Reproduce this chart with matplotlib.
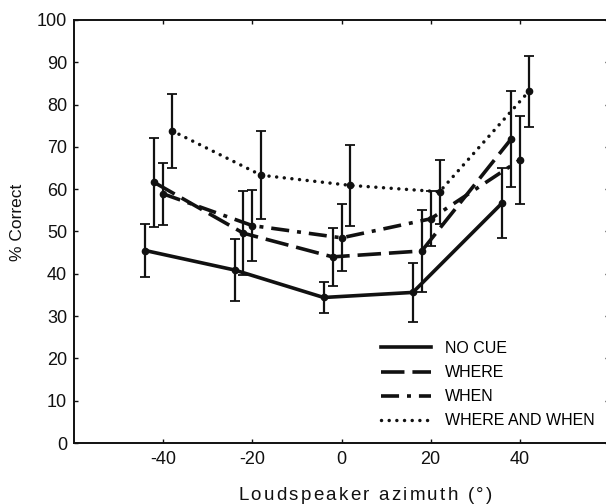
import matplotlib
matplotlib.use('Agg')
import matplotlib.pyplot as plt
from matplotlib import font_manager, ft2font

# ---------------- data ----------------
azimuth_ticks = [-40, -20, 0, 20, 40]
y_ticks = [0, 10, 20, 30, 40, 50, 60, 70, 80, 90, 100]
series_names = ['NO CUE', 'WHERE', 'WHEN', 'WHERE AND WHEN']

x_no_cue = [-44, -24, -4, 16, 36]
y_no_cue = [45.5, 40.9, 34.4, 35.6, 56.7]
err_no_cue = [6.2, 7.4, 3.7, 6.9, 8.3]

x_where = [-42, -22, -2, 18, 38]
y_where = [61.6, 49.6, 44.0, 45.4, 71.8]
err_where = [10.6, 9.9, 6.9, 9.8, 11.3]

x_when = [-40, -20, 0, 20, 40]
y_when = [58.9, 51.4, 48.5, 53.0, 66.9]
err_when = [7.3, 8.4, 7.9, 6.5, 10.5]

x_where_when = [-38, -18, 2, 22, 42]
y_where_when = [73.8, 63.3, 60.9, 59.4, 83.1]
err_where_when = [8.8, 10.4, 9.5, 7.6, 8.5]

x_label_text = 'Loudspeaker azimuth (\u00b0)'
y_label_text = '% Correct'

# ---------------- style ----------------
FAMILY = 'Liberation Sans'
plt.rcParams['font.family'] = [FAMILY, 'DejaVu Sans']
plt.rcParams['axes.unicode_minus'] = False

W_PX, H_PX, DPI = 606, 504, 100
INK = '#111111'
fig = plt.figure(figsize=(W_PX / DPI, H_PX / DPI), dpi=DPI)
ax = fig.add_axes([74 / W_PX, (H_PX - 443) / H_PX, (609 - 74) / W_PX, 423 / H_PX])

styles = [
    dict(linestyle='-', lw=2.6),
    dict(linestyle=(0, (6.5, 2.2)), lw=2.6),
    dict(linestyle=(0, (5.0, 2.2, 1.1, 2.2)), lw=2.6),
    dict(linestyle=(0, (0.01, 2.2)), lw=2.5, dash_capstyle='round'),
]
xs = [x_no_cue, x_where, x_when, x_where_when]
ys = [y_no_cue, y_where, y_when, y_where_when]
errs = [err_no_cue, err_where, err_when, err_where_when]

handles = []
for name, x, y, e, st in zip(series_names, xs, ys, errs, styles):
    ax.errorbar(x, y, yerr=e, fmt='none', ecolor=INK, elinewidth=1.6,
                capsize=3.4, capthick=1.3, zorder=2)
    ln, = ax.plot(x, y, color=INK, zorder=3, label=name, **st)
    ax.plot(x, y, linestyle='none', marker='o', markersize=4.5,
            color=INK, zorder=4)
    handles.append(ln)

ax.set_xlim(-60, 60)
ax.set_ylim(0, 100)
ax.set_xticks(azimuth_ticks)
ax.set_xticklabels([str(t) for t in azimuth_ticks])
ax.set_yticks(y_ticks)
ax.set_yticklabels([str(t) for t in y_ticks])
ax.tick_params(direction='in', length=3, width=1.0, top=True, right=True,
               labelsize=13, colors=INK)
ax.tick_params(axis='x', pad=6)
ax.tick_params(axis='y', pad=5)
for sp in ax.spines.values():
    sp.set_linewidth(1.4)
    sp.set_color(INK)

leg = ax.legend(handles=handles, labels=series_names,
                loc='upper left', bbox_to_anchor=(381 / W_PX, 1 - 341 / H_PX),
                bbox_transform=fig.transFigure, frameon=False, fontsize=11.5,
                handlelength=3.1, handletextpad=0.9, labelspacing=0.57,
                borderpad=0, borderaxespad=0)

# y label
fig.text(18 / W_PX, 1 - 222 / H_PX, y_label_text, rotation=90, ha='center',
         va='center', fontsize=12.5, color=INK)


# x label with letter spacing (tracked text)
def tracked_text(s, xc_px, base_px, size_pt, width_px):
    fp = font_manager.FontProperties(family=FAMILY, size=size_pt)
    try:
        path = font_manager.findfont(fp)
        ft = ft2font.FT2Font(path)
        if hasattr(ft2font, 'LoadFlags'):
            flag = ft2font.LoadFlags.NO_SCALE
        else:
            flag = ft2font.LOAD_NO_SCALE
        upem = ft.units_per_EM
        px_per_em = size_pt * DPI / 72.0
        advs = [ft.load_char(ord(c), flags=flag).horiAdvance / upem * px_per_em
                for c in s]
    except Exception:
        fig.text(xc_px / W_PX, 1 - base_px / H_PX, s, ha='center',
                 va='baseline', fontproperties=fp, color=INK)
        return
    track = (width_px - sum(advs)) / (len(s) - 1)
    x = xc_px - width_px / 2.0
    for c, a in zip(s, advs):
        fig.text(x / W_PX, 1 - base_px / H_PX, c, ha='left', va='baseline',
                 fontproperties=fp, color=INK)
        x += a + track


tracked_text(x_label_text, 365, 500, 13.5, 254)

fig.savefig('out.png', dpi=DPI)
